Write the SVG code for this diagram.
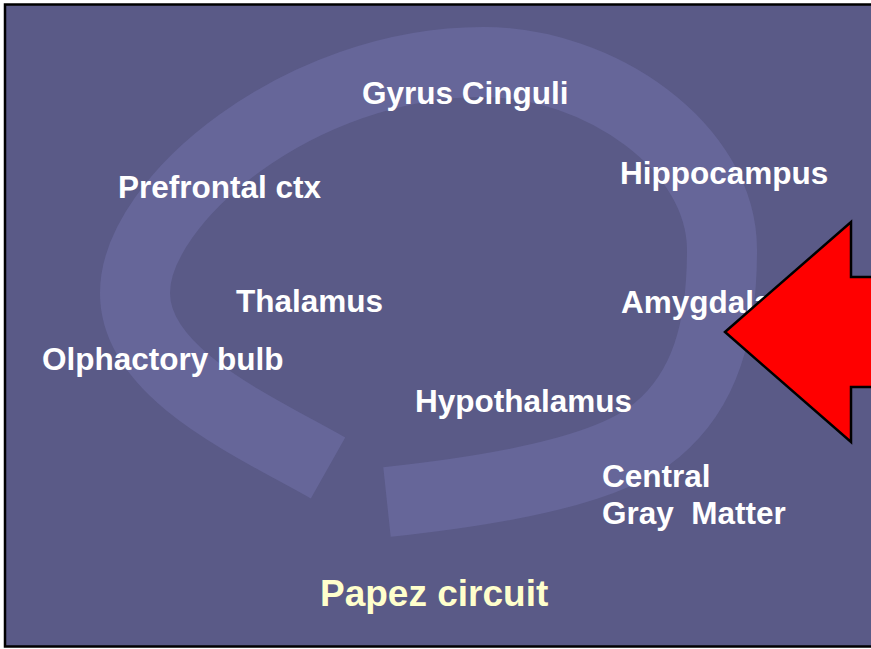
<svg xmlns="http://www.w3.org/2000/svg" width="871" height="649" viewBox="0 0 871 649">
<style>
.lbl{font-family:"Liberation Sans",Arial,sans-serif;font-weight:bold;font-size:31.5px;fill:#ffffff;white-space:pre}
.title{font-family:"Liberation Sans",Arial,sans-serif;font-weight:bold;font-size:37px;fill:#ffffcc}
</style>
<rect x="0" y="0" width="871" height="649" fill="#ffffff"/>
<rect x="5" y="4.5" width="870" height="642" fill="#5a5a87" stroke="#000000" stroke-width="2.5"/>
<g id="swirl">
<path d="M328,468 C250,424 135,373 135,293 C135,200 300,62 483,62 C600,62 722,147 722,250 C722,330 705,390 657,430 C610,470 500,490 387,502" fill="none" stroke="#666699" stroke-width="70" stroke-linecap="butt"/>
</g>
<g id="gyrus-cinguli"><text class="lbl" x="362" y="104">Gyrus Cinguli</text></g>
<g id="hippocampus"><text class="lbl" x="620" y="184">Hippocampus</text></g>
<g id="prefrontal-ctx"><text class="lbl" x="118" y="198">Prefrontal ctx</text></g>
<g id="thalamus"><text class="lbl" x="236" y="312">Thalamus</text></g>
<g id="amygdala"><text class="lbl" x="621" y="313">Amygdala</text></g>
<g id="olphactory-bulb"><text class="lbl" x="42" y="370">Olphactory bulb</text></g>
<g id="hypothalamus"><text class="lbl" x="415" y="412">Hypothalamus</text></g>
<g id="central-gray-matter"><text class="lbl" x="602" y="487">Central</text><text class="lbl" x="602" y="524">Gray  Matter</text></g>
<g id="title"><text class="title" x="320" y="606">Papez circuit</text></g>
<g id="connectors">
<polygon points="725,332 851,222 851,277 885,277 885,387 851,387 851,442" fill="#ff0000" stroke="#000000" stroke-width="2.5" stroke-linejoin="miter"/>
</g>
</svg>
